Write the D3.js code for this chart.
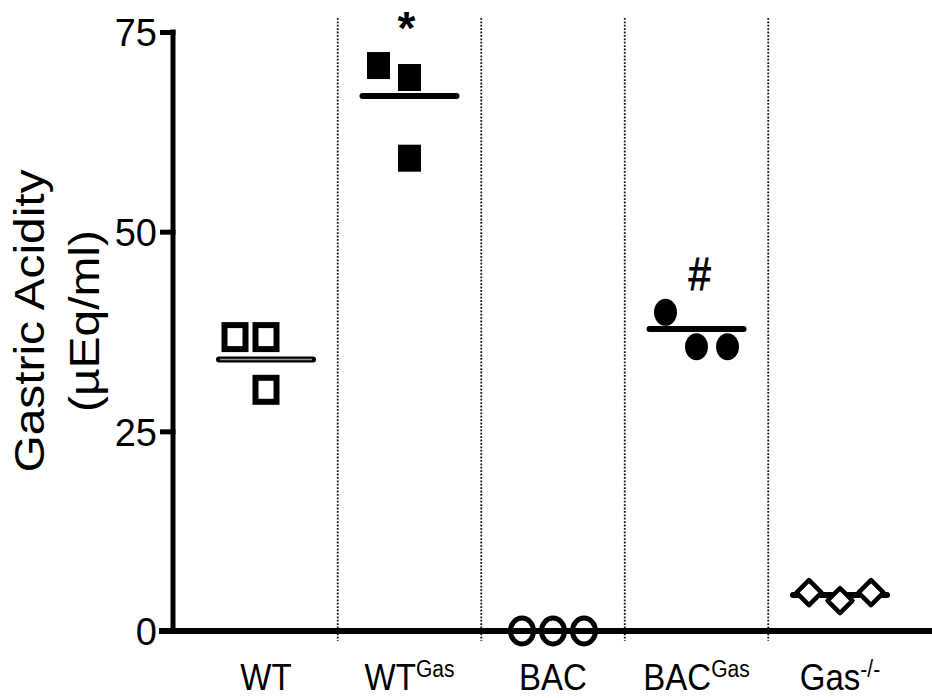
<!DOCTYPE html>
<html>
<head>
<meta charset="utf-8">
<script src="https://cdn.jsdelivr.net/npm/d3@7"></script>
<style>
  html, body { margin: 0; padding: 0; background: #fff; }
  svg { display: block; font-family: "Liberation Sans", Arial, sans-serif; }
</style>
</head>
<body>
<svg id="chart" width="932" height="698"></svg>
<script>
// ---- data ----
const categories = ["WT", "WTGas", "BAC", "BACGas", "Gas-/-"];
const labelMain = ["WT", "WT", "BAC", "BAC", "Gas"];
const labelSup = ["", "Gas", "", "Gas", "-/-"];
const markerTypes = ["openSquare", "filledSquare", "openCircle", "filledCircle", "openDiamond"];
const values = [
  [36.8, 36.8, 30.2],
  [70.8, 69.3, 59.2],
  [0, 0, 0],
  [39.9, 35.6, 35.6],
  [4.8, 3.8, 4.8]
];
const jitter = [
  [-1, 0, 0],
  [-1, 0, 0],
  [-1, 0, 1],
  [-1, 0, 1],
  [-1, 0, 1]
];
const means = [34.0, 67.0, 0, 37.8, 4.5];
const annotations = ["", "*", "", "#", ""];
const yTicks = [0, 25, 50, 75];

// ---- layout ----
const svg = d3.select("#chart");
const W = 932, H = 698;
const STRETCH = 1.14;
const x = d3.scalePoint().domain(categories).range([266, 840]);
const step = x.step();
const y = d3.scaleLinear().domain([0, 75]).range([631, 32]);
const jit = d3.scaleLinear().domain([-1, 1]).range([-31, 31]);

// dividers
const dividers = categories.slice(0, -1).map(c => x(c) + step / 2);
svg.append("g").selectAll("line").data(dividers).join("line")
  .attr("x1", d => d).attr("x2", d => d)
  .attr("y1", 18).attr("y2", 641)
  .attr("stroke", "#111").attr("stroke-width", 1.8)
  .attr("stroke-dasharray", "1.8,1.6");

// x axis line
svg.append("line")
  .attr("x1", 159).attr("x2", W)
  .attr("y1", y(0)).attr("y2", y(0))
  .attr("stroke", "#000").attr("stroke-width", 6);

// y axis
const yAxis = d3.axisLeft(y).tickValues(yTicks).tickSize(13).tickPadding(3).tickSizeOuter(0);
const gy = svg.append("g").attr("transform", "translate(173,0)").call(yAxis);
gy.select(".domain").attr("stroke", "#000").attr("stroke-width", 5)
  .attr("d", `M0,${y(75) - 2.5}V${y(0)}`);
gy.selectAll(".tick line").attr("stroke", "#000").attr("stroke-width", 5)
  .attr("x1", 2.5);
gy.selectAll(".tick text").attr("font-size", 38).attr("fill", "#000")
  .attr("font-family", "'Liberation Sans', Arial, sans-serif").attr("dy", "0.36em");

// y title
const yt = svg.append("g").attr("transform", `translate(0,321) rotate(-90) scale(${STRETCH},1)`);
yt.append("text").attr("x", 0).attr("y", 44).attr("text-anchor", "middle")
  .attr("font-size", 42).text("Gastric Acidity");
yt.append("text").attr("x", 0).attr("y", 99).attr("text-anchor", "middle")
  .attr("font-size", 42).text("(µEq/ml)");

// category labels
categories.forEach((c, i) => {
  const g = svg.append("g").attr("transform", `translate(${x(c)},690) scale(1,${STRETCH})`);
  const t = g.append("text").attr("x", 0).attr("y", 0)
    .attr("text-anchor", "middle").attr("font-size", 33).attr("fill", "#000");
  t.append("tspan").text(labelMain[i]);
  if (labelSup[i]) {
    t.append("tspan").attr("font-size", 21).attr("dy", -11).text(labelSup[i]);
  }
});

// mean lines
const meanG = svg.append("g");
categories.forEach((c, i) => {
  const cx = x(c);
  meanG.append("line")
    .attr("x1", cx - 47).attr("x2", cx + 47)
    .attr("y1", y(means[i])).attr("y2", y(means[i]))
    .attr("stroke", "#000").attr("stroke-width", 6).attr("stroke-linecap", "round");
  if (markerTypes[i] === "openSquare") {
    meanG.append("line")
      .attr("x1", cx - 46).attr("x2", cx + 46)
      .attr("y1", y(means[i])).attr("y2", y(means[i]))
      .attr("stroke", "#999").attr("stroke-width", 1.6);
  }
});

// points
const ptG = svg.append("g");
categories.forEach((c, i) => {
  values[i].forEach((v, j) => {
    const px = x(c) + jit(jitter[i][j]);
    const py = y(v);
    const type = markerTypes[i];
    if (type === "openSquare") {
      ptG.append("rect").attr("x", px - 10.5).attr("y", py - 12).attr("width", 21).attr("height", 24)
        .attr("fill", "#fff").attr("stroke", "#000").attr("stroke-width", 6);
    } else if (type === "filledSquare") {
      ptG.append("rect").attr("x", px - 11.5).attr("y", py - 13.5).attr("width", 23).attr("height", 27)
        .attr("fill", "#000");
    } else if (type === "openCircle") {
      ptG.append("ellipse").attr("cx", px).attr("cy", py).attr("rx", 11.5).attr("ry", 13)
        .attr("fill", "none").attr("stroke", "#000").attr("stroke-width", 5);
    } else if (type === "filledCircle") {
      ptG.append("ellipse").attr("cx", px).attr("cy", py).attr("rx", 11.5).attr("ry", 13.5)
        .attr("fill", "#000");
    } else if (type === "openDiamond") {
      const r = 12.5;
      ptG.append("path").attr("d", `M${px},${py - r}L${px + r},${py}L${px},${py + r}L${px - r},${py}Z`)
        .attr("fill", "#fff").attr("stroke", "#000").attr("stroke-width", 4.5)
        .attr("stroke-linejoin", "round");
    }
  });
});

// annotations
categories.forEach((c, i) => {
  if (!annotations[i]) return;
  const top = d3.max(values[i]);
  if (annotations[i] === "*") {
    svg.append("text").attr("x", x(c) - 3).attr("y", 44).attr("text-anchor", "middle")
      .attr("font-size", 46).attr("font-weight", "bold").text("*");
  } else {
    const g = svg.append("g").attr("transform", `translate(${x(c) + 3},${y(top) - 22}) scale(1,${STRETCH})`);
    g.append("text").attr("text-anchor", "middle")
      .attr("font-size", 40).attr("stroke", "#000").attr("stroke-width", 0.8).text(annotations[i]);
  }
});
</script>
</body>
</html>
